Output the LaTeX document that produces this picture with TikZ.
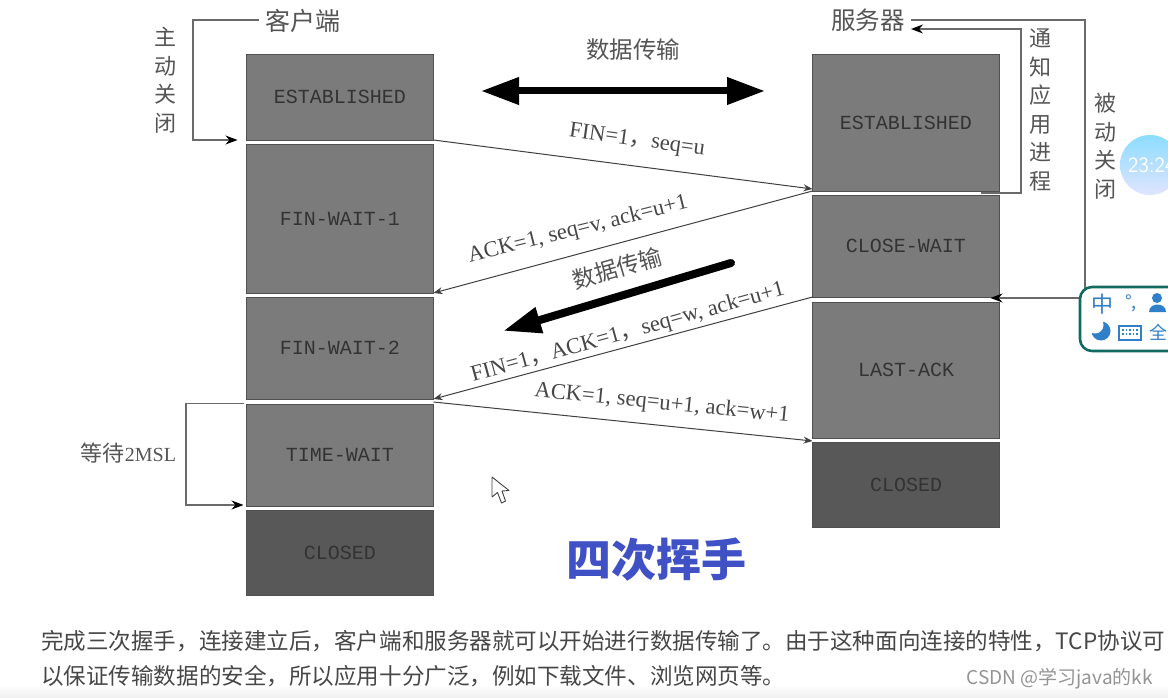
\documentclass[tikz,border=0pt]{standalone}
\usepackage{fontspec}
\setmainfont{Liberation Serif}
\setmonofont{Liberation Mono}
\newfontfamily\cjk{Noto Sans CJK SC}
\usetikzlibrary{arrows.meta}
\definecolor{boxgray}{HTML}{7B7B7B}
\definecolor{boxdark}{HTML}{585858}
\definecolor{boxedge}{HTML}{505050}
\definecolor{linegray}{HTML}{6A6A6A}
\definecolor{textgray}{HTML}{555555}
\definecolor{titleblue}{HTML}{3F51C4}
\definecolor{imeblue}{HTML}{2F80C8}
\definecolor{imeteal}{HTML}{126B60}
\tikzset{
  statebox/.style={draw=boxedge,line width=.9pt,fill=boxgray,outer sep=0pt,minimum width=187pt,inner sep=0pt,text=black!80,font=\ttfamily\fontsize{20}{24}\selectfont},
  closedbox/.style={statebox,fill=boxdark},
  msgline/.style={draw=black!75,line width=1pt,-{Stealth[length=9pt,width=7pt]}},
  loopline/.style={draw=linegray,line width=1.2pt},
  looparrow/.style={loopline,-{Stealth[length=12pt,width=9pt,black]}},
  fatarrow/.style={line width=7pt,black},
  msglabel/.style={inner sep=0pt,text=black!72,font=\fontsize{22.5}{26}\selectfont},
  cjklabel/.style={inner sep=0pt,text=textgray,font=\cjk\fontsize{22}{28.6}\selectfont,align=center},
  bodytext/.style={inner sep=0pt,anchor=west,text=black!72,font=\cjk\fontsize{22.55}{26}\selectfont},
}
\begin{document}
\begin{tikzpicture}[x=1pt,y=-1pt]
\useasboundingbox (0,0) rectangle (1168,698);
\fill[white] (0,0) rectangle (1168,698);
\shade[top color=white,bottom color=black!6] (0,684) rectangle (1168,698);

% client column
\node[statebox,minimum height=86pt] (c1) at (340,97) {ESTABLISHED};
\node[statebox,minimum height=149pt] (c2) at (340,218.5) {FIN-WAIT-1};
\node[statebox,minimum height=102pt] (c3) at (340,348) {FIN-WAIT-2};
\node[statebox,minimum height=102pt] (c4) at (340,455) {TIME-WAIT};
\node[closedbox,minimum height=85pt] (c5) at (340,552.5) {CLOSED};
% server column
\node[statebox,minimum height=137pt] (s1) at (906,122.5) {ESTABLISHED};
\node[statebox,minimum height=102pt] (s2) at (906,246) {CLOSE-WAIT};
\node[statebox,minimum height=136pt] (s3) at (906,370) {LAST-ACK};
\node[closedbox,minimum height=85pt] (s4) at (906,484.5) {CLOSED};

% headers
\node[cjklabel,font=\cjk\fontsize{25}{28}\selectfont] (client) at (303,21) {客户端};
\node[cjklabel,font=\cjk\fontsize{24.5}{28}\selectfont] (server) at (868,20) {服务器};
\node[cjklabel] (active) at (165,80) {主\\动\\关\\闭};
\node[cjklabel] (notify) at (1040,110) {通\\知\\应\\用\\进\\程};
\node[cjklabel] (passive) at (1105,146) {被\\动\\关\\闭};
\node[cjklabel,font=\cjk\fontsize{22}{26}\selectfont] (wait) at (128.5,453) {等待{\rmfamily\fontsize{20}{26}\selectfont 2MSL}};

% side loops
\coordinate (cliTop) at (259,20);
\coordinate (srvOut) at (911,20);
\coordinate (srvIn) at (911,29);
\draw[looparrow] (cliTop) -- (193,20) -- (193,140) -- ([xshift=-9pt]c1.south west);
\draw[looparrow] ([xshift=-3pt,yshift=.5pt]c4.north west) -- (186,403.5) -- (186,505) -- ([xshift=-3pt,yshift=5pt]c5.north west);
\draw[looparrow] ([xshift=-19pt,yshift=-2pt]s1.south east) -- (1021,193) -- (1021,29) -- (srvIn);
\draw[looparrow] (srvOut) -- (1085,20) -- (1085,298) -- ([xshift=-9pt,yshift=4pt]s3.north east);

% messages
\coordinate (m1) at ([yshift=2pt]s1.south west);
\draw[msgline] (c1.south east) -- (m1);
\draw[msgline] (s1.south west) -- (c2.south east);
\draw[msgline] (s2.south west) -- (c3.south east);
\draw[msgline] ([yshift=2pt]c4.north east) -- ([yshift=-3pt]s3.south west);

% message labels
\node[msglabel,rotate=-8] (l1) at (637,141) {FIN=1{\cjk，}seq=u};
\node[msglabel,rotate=14] (l2) at (578,230) {ACK=1, seq=v, ack=u+1};
\node[msglabel,rotate=15.5] (l3) at (628,333) {FIN=1{\cjk，}ACK=1{\cjk，}seq=w, ack=u+1};
\node[msglabel,rotate=-5.7] (l4) at (662,404) {ACK=1, seq=u+1, ack=w+1};

% data transfer arrows
\node[cjklabel,font=\cjk\fontsize{23.5}{27}\selectfont] (data1) at (633,50) {数据传输};
\coordinate (d1a) at (481,91);
\coordinate (d1b) at (765,91);
\draw[fatarrow,{Stealth[length=38pt,width=26pt,inset=0pt]}-{Stealth[length=38pt,width=26pt,inset=0pt]}] (d1a) -- (d1b);
\node[cjklabel,font=\cjk\fontsize{23}{27}\selectfont,rotate=16] (data2) at (617,268) {数据传输};
\coordinate (d2a) at (731,263);
\coordinate (d2b) at (503,331);
\draw[fatarrow,line width=8pt,line cap=round,-{Stealth[length=38pt,width=25pt,inset=0pt]}] (d2a) -- (d2b);

% title and body
\node[inner sep=0pt,text=titleblue,font=\cjk\bfseries\fontsize{45}{50}\selectfont] (title) at (656,560) {四次挥手};
\node[bodytext] (t1) at (41,641) {完成三次握手，连接建立后，客户端和服务器就可以开始进行数据传输了。由于这种面向连接的特性，TCP协议可};
\node[bodytext] (t2) at (41,676) {以保证传输数据的安全，所以应用十分广泛，例如下载文件、浏览网页等。};
\node[inner sep=0pt,anchor=east,text=black!42,font=\cjk\fontsize{19}{22}\selectfont] (mark) at (1153,679) {CSDN @学习java的kk};

% mouse cursor
\draw[fill=white,draw=black!75,line width=.9pt,line join=round]
  (492,477) -- (492,497) -- (497.5,492.5) -- (501.5,503) -- (505.5,501) -- (502,491) -- (509,490.5) -- cycle;

% clock bubble and IME bar
\begin{scope}
\clip (0,0) rectangle (1168,698);
\shade[top color=blue!30!cyan!45,bottom color=cyan!12!blue!12] (1150,165) circle (30);
\node[inner sep=0pt,anchor=west,text=white,font=\fontsize{22}{24}\selectfont\sffamily] (clock) at (1128,165) {23:24};
\draw[imeteal,fill=white,line width=2.6pt,rounded corners=12pt] (1080,287) rectangle (1210,351);
\node[inner sep=0pt,text=imeblue,font=\cjk\fontsize{22}{24}\selectfont] (ime1) at (1102,304) {中};
\node[inner sep=0pt,text=imeblue,font=\cjk\fontsize{18}{20}\selectfont] (ime2) at (1131,303) {°,};
\fill[imeblue] (1157,298) circle (5) (1149,312) .. controls (1149,302) and (1166,302) .. (1166,312) -- cycle;
\fill[imeblue] (1101,331) circle (9.5);
\fill[white] (1095,325) circle (8.5);
\draw[imeblue,line width=1.6pt,fill=white] (1119,326) rectangle (1141,340);
\draw[imeblue,line width=1.6pt,dotted] (1122,330) -- (1139,330) (1122,334) -- (1139,334);
\node[inner sep=0pt,text=imeblue,font=\cjk\fontsize{18}{24}\selectfont] (ime3) at (1158.5,332) {全};
\end{scope}
\end{tikzpicture}
\end{document}
